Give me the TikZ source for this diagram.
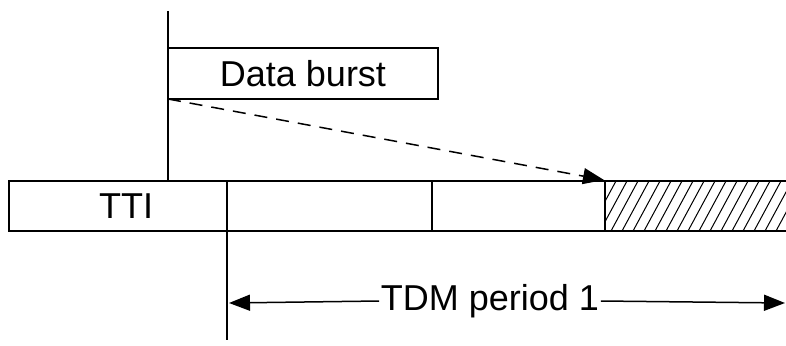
\documentclass[tikz,border=0pt]{standalone}
\usepackage{fontspec}
\setmainfont{Liberation Sans}
\usetikzlibrary{arrows.meta}
\begin{document}
\begin{tikzpicture}[x=1pt,y=-1pt,
  line width=1.5pt,
  cell/.style={draw,line width=1.5pt,anchor=north west,minimum height=50pt,inner sep=0pt,outer sep=0pt},
  lbl/.style={inner sep=1pt,font=\fontsize{36}{41}\selectfont},
  tip/.style={-{Triangle[length=21pt,width=16pt]}}]
\useasboundingbox (0,0) rectangle (786,345);
% bar cells
\node[cell,minimum width=218pt] (c1) at (9,181) {};
\node[cell,minimum width=205pt] (c2) at (227,181) {};
\node[cell,minimum width=173pt] (c3) at (432,181) {};
\node[cell,minimum width=186pt] (c4) at (605,181) {};
\node[lbl] (tti) at (126,206) {TTI};
% hatching
\begin{scope}
  \clip (c4.south west) rectangle (c4.north east);
  \foreach \x in {578,589,...,795} \draw[line width=1pt] (\x,231) -- ++(27,-50);
\end{scope}
\draw (c4.south west) rectangle (c4.north east);
% data burst
\node[cell,minimum width=270pt,minimum height=51pt] (burst) at (168,48) {};
\node[lbl] (bursttext) at (burst.center) {Data burst};
% vertical markers
\coordinate (top) at (168,11);
\coordinate (topend) at (168,181);
\coordinate (bot) at (227,340);
\draw (top) -- (topend);
\draw (c2.south west) -- (bot);
% dashed arrow
\coordinate (arrtip) at (604,180);
\draw[tip,dash pattern=on 13pt off 9pt] (burst.south west) -- (arrtip);
% TDM period
\coordinate (pl) at (229,303);
\coordinate (pr) at (785,303);
\node[lbl] (tdm) at (490,301) {TDM period 1};
\draw[tip] (tdm.west) -- (pl);
\draw[tip] (tdm.east) -- (pr);
\end{tikzpicture}
\end{document}
